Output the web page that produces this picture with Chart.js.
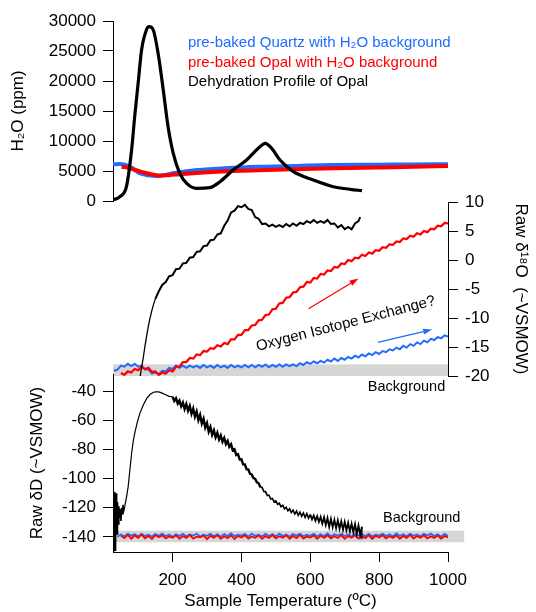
<!DOCTYPE html>
<html>
<head>
<meta charset="utf-8">
<title>Opal dehydration</title>
<script src="https://cdn.jsdelivr.net/npm/chart.js@4.4.1/dist/chart.umd.min.js"></script>
<style>
  html, body { margin: 0; padding: 0; background: #fff; }
  #wrap { position: relative; width: 536px; height: 612px; overflow: hidden; }
  #wrap canvas { position: absolute; left: 0; top: 0; }
</style>
</head>
<body>
<div id="wrap">
  <canvas id="h2oChart" width="536" height="612"></canvas>
  <canvas id="o18Chart" width="536" height="612"></canvas>
  <canvas id="dDChart" width="536" height="612"></canvas>
</div>
<script>
// ===== Data =====

const TEMP_MIN = 27;
const TEMP_MAX = 1000;
const tempTicks = [200, 400, 600, 800, 1000];
const dDTicks = [-140, -120, -100, -80, -60, -40];

// H2O (ppm) panel
const h2oQuartzTemp = [27, 47, 60, 77, 105, 130, 154, 180, 202, 240, 280, 330, 376, 420, 473, 560, 667, 800, 900, 1000];
const h2oQuartz = [6110, 6170, 6050, 5720, 4620, 4300, 4170, 4350, 4620, 4950, 5170, 5380, 5560, 5650, 5720, 5850, 6000, 6050, 6100, 6110];

const h2oOpalTemp = [52, 70, 86, 105, 125, 145, 163, 185, 202, 240, 280, 330, 376, 473, 560, 667, 800, 900, 1000];
const h2oOpal = [5720, 5550, 5280, 4950, 4620, 4380, 4220, 4300, 4400, 4560, 4720, 4870, 5000, 5170, 5300, 5450, 5600, 5700, 5830];

const h2oProfileTemp = [27, 47, 66, 81, 90, 100, 110, 124, 132, 144, 158, 173, 187, 202, 221, 241, 270, 308, 338, 376, 415, 449, 469, 488, 512, 551, 609, 667, 716, 750];
const h2oProfile = [170, 720, 2380, 8500, 14050, 19620, 25170, 28500, 29050, 28500, 24620, 18500, 12380, 7950, 4620, 2950, 2120, 2220, 3220, 5170, 6830, 8780, 9620, 8780, 6830, 4890, 3500, 2380, 1950, 1720];

// shared temperature grid for the background runs
const tempGrid = [
  30, 40, 50, 60, 70, 80, 90, 100,
  110, 120, 130, 140, 150, 160, 170, 180, 190, 200,
  210, 220, 230, 240, 250, 260, 270, 280, 290, 300,
  310, 320, 330, 340, 350, 360, 370, 380, 390, 400,
  410, 420, 430, 440, 450, 460, 470, 480, 490, 500,
  510, 520, 530, 540, 550, 560, 570, 580, 590, 600,
  610, 620, 630, 640, 650, 660, 670, 680, 690, 700,
  710, 720, 730, 740, 750, 760, 770, 780, 790, 800,
  810, 820, 830, 840, 850, 860, 870, 880, 890, 900,
  910, 920, 930, 940, 950, 960, 970, 980, 990, 1000
];

// Raw d18O panel
const o18Quartz = [
  -19.1, -18.9, -18.2, -18.4, -17.9, -18.3, -17.9, -18.4,
  -18.2, -18.9, -18.9, -19.6, -19.4, -19.7, -19.1, -19.2, -18.6, -18.8,
  -18.2, -18.6, -18.2, -18.6, -18.2, -18.5, -18.2, -18.6, -18.1, -18.5,
  -18.2, -18.6, -18.1, -18.5, -18.2, -18.6, -18.1, -18.5, -18.2, -18.5,
  -18.1, -18.5, -18.1, -18.5, -18.1, -18.4, -18.0, -18.5, -18.1, -18.4,
  -18.0, -18.4, -18.0, -18.3, -18.0, -18.3, -17.8, -18.1, -17.6, -17.9,
  -17.5, -17.8, -17.4, -17.7, -17.2, -17.5, -17.0, -17.4, -16.9, -17.2,
  -16.7, -17.0, -16.5, -16.8, -16.3, -16.6, -16.1, -16.4, -15.9, -16.2,
  -15.7, -15.9, -15.4, -15.6, -15.1, -15.4, -14.8, -15.1, -14.5, -14.8,
  -14.2, -14.5, -13.9, -14.2, -13.6, -13.8, -13.3, -13.5, -13.0, -13.2
];
const o18Opal = [
  null, null, -19.5, -19.8, -19.2, -19.4, -18.8, -19.0,
  -18.4, -18.8, -18.6, -19.3, -19.2, -19.8, -19.4, -19.6, -19.0, -19.2,
  -18.4, -18.4, -17.6, -17.6, -16.9, -17.0, -16.3, -16.4, -15.7, -15.8,
  -15.2, -15.3, -14.7, -14.9, -14.3, -14.5, -13.7, -13.7, -12.9, -12.9,
  -12.1, -12.1, -11.3, -11.2, -10.4, -10.3, -9.5, -9.4, -8.5, -8.4,
  -7.5, -7.4, -6.5, -6.4, -5.6, -5.5, -4.7, -4.6, -3.8, -3.9,
  -3.1, -3.2, -2.4, -2.5, -1.8, -1.9, -1.2, -1.3, -0.6, -0.7,
  0.0, -0.2, 0.4, 0.3, 0.9, 0.7, 1.3, 1.1, 1.7, 1.6,
  2.2, 2.1, 2.7, 2.6, 3.2, 3.1, 3.7, 3.6, 4.2, 4.0,
  4.6, 4.4, 5.0, 4.8, 5.4, 5.3, 5.9, 5.8, 6.4, 6.3
];
const o18ProfileTemp = [
  106, 110, 115, 120, 125, 130, 135, 140, 145, 150,
  160, 170, 180, 190, 200, 210, 220, 230, 240, 250,
  260, 270, 280, 290, 300, 310, 320, 330, 340, 350,
  360, 370, 380, 390, 400, 410, 420, 430, 440, 450,
  460, 470, 480, 490, 500, 510, 520, 530, 540, 550,
  560, 570, 580, 590, 600, 610, 620, 630, 640, 650,
  660, 670, 680, 690, 700, 710, 720, 730, 740, 745
];
const o18Profile = [
  -20.0, -18.6, -16.8, -14.8, -13.0, -11.3, -9.9, -8.7, -7.6, -6.7,
  -5.4, -4.3, -3.8, -2.8, -2.6, -1.6, -1.5, -0.6, -0.5, 0.4,
  0.5, 1.4, 1.5, 2.4, 2.5, 3.4, 3.5, 4.4, 4.6, 5.9,
  6.8, 8.2, 8.5, 9.3, 9.1, 9.5, 8.8, 8.6, 7.4, 7.1,
  6.2, 6.3, 5.8, 6.1, 5.7, 6.0, 5.7, 6.2, 5.8, 6.3,
  5.9, 6.4, 6.2, 6.7, 6.4, 6.9, 6.4, 6.7, 6.4, 6.9,
  6.2, 6.3, 5.6, 6.0, 5.3, 5.7, 5.3, 6.3, 6.7, 7.4
];

// Raw dD panel
const dDQuartz = [
  null, -139.8, -138.3, -139.5, -137.9, -139.1, -138.2, -139.6,
  -137.8, -139.3, -138.5, -139.7, -138.0, -139.2, -137.7, -139.5, -138.4, -139.8,
  -138.1, -139.4, -137.9, -139.6, -138.3, -139.0, -137.8, -139.7, -138.5, -139.2,
  -137.9, -139.5, -138.2, -139.8, -138.0, -139.3, -137.6, -139.4, -138.4, -139.1,
  -138.0, -139.6, -137.8, -139.2, -138.5, -139.7, -137.9, -139.3, -138.1, -139.5,
  -137.7, -139.4, -138.3, -139.8, -138.0, -139.1, -137.9, -139.5, -138.4, -139.2,
  -137.8, -139.6, -138.1, -139.3, -137.6, -139.7, -138.2, -139.0, -137.9, -139.4,
  -138.3, -139.8, -137.7, -139.2, -138.0, -139.5, -137.8, -139.6, -138.4, -139.1,
  -137.9, -139.4, -138.2, -139.7, -137.6, -139.3, -138.1, -139.5, -137.8, -139.2,
  -138.3, -139.6, -137.9, -139.0, -137.7, -139.4, -138.2, -139.8, -137.9, -139.3
];
const dDOpal = [
  null, null, -139.2, -140.8, -138.6, -141.2, -139.0, -140.6,
  -138.4, -140.9, -139.3, -141.4, -138.7, -140.2, -138.9, -141.0, -139.6, -140.5,
  -138.8, -141.3, -139.4, -140.7, -138.6, -141.1, -139.8, -140.3, -138.9, -141.5,
  -139.2, -140.6, -138.7, -141.2, -139.5, -140.8, -138.9, -141.4, -139.3, -140.4,
  -138.8, -141.1, -139.6, -140.6, -138.9, -141.3, -139.4, -140.7, -138.7, -141.0,
  -139.5, -140.5, -138.8, -141.2, -139.3, -140.8, -138.6, -141.1, -139.7, -140.4,
  -138.9, -141.3, -139.2, -140.6, -138.8, -141.0, -139.5, -140.7, -138.7, -141.2,
  -139.4, -140.5, -138.9, -141.1, -139.6, -140.8, -138.7, -141.3, -139.2, -140.4,
  -138.8, -141.0, -139.5, -140.6, -138.9, -141.2, -139.3, -140.7, -138.6, -141.1,
  -139.4, -140.5, -138.8, -141.0, -139.6, -140.7, -138.9, -141.2, -139.3, -140.3
];
const dDProfileTemp = [
  27, 28, 29, 30, 31, 32, 33, 34, 35, 36, 37, 38, 39, 40,
  42, 44, 46, 48, 50, 52, 54, 56, 58, 61, 66, 71, 76, 81, 86, 91, 98,
  105, 115, 125, 135, 145, 150, 160, 170, 180, 190,
  200, 205, 210, 215, 220, 225, 230, 235, 240, 245,
  250, 255, 260, 265, 270, 275, 280, 285, 290, 295,
  300, 305, 310, 315, 320, 325, 330, 335, 340, 345,
  350, 355, 360, 365, 370, 375, 380, 385, 390, 395,
  400, 405, 410, 415, 420, 425, 430, 435, 440, 445,
  450, 455, 460, 465, 470, 475, 480, 485, 490, 495,
  500, 505, 510, 515, 520, 525, 530, 535, 540, 545,
  550, 555, 560, 565, 570, 575, 580, 585, 590, 595,
  600, 605, 610, 615, 620, 625, 630, 635, 640, 645,
  650, 655, 660, 665, 670, 675, 680, 685, 690, 695,
  700, 705, 710, 715, 720, 725, 730, 735, 740, 745,
  750, 750
];
const dDProfile = [
  -150, -112, -146, -109, -141, -114, -149, -117, -137, -110, -133, -120, -138, -116,
  -131, -119, -127, -121, -129, -120, -124, -118, -122, -119, -113, -105.7, -94.2, -82.8, -74, -68, -61,
  -55.3, -49.5, -45, -42.2, -40.8, -40.5, -40.6, -41.4, -42.5, -43.6,
  -43.9, -46.8, -45.0, -48.6, -46.5, -50.4, -47.8, -52.3, -48.9, -53.5,
  -50.3, -55.6, -52.0, -57.6, -54.1, -59.9, -56.4, -62.3, -59.0, -65.1,
  -62.0, -67.8, -64.6, -70.0, -66.9, -71.7, -68.6, -73.2, -70.4, -74.7,
  -72.1, -76.3, -74.1, -78.2, -76.5, -80.6, -79.9, -83.8, -83.2, -86.9,
  -86.8, -90.2, -90.3, -93.5, -93.8, -96.7, -97.1, -99.7, -100.2, -102.6,
  -103.2, -105.9, -106.0, -108.8, -108.9, -111.5, -111.4, -114.0, -113.6, -115.9,
  -115.3, -117.7, -116.9, -119.2, -118.2, -120.7, -119.6, -122.1, -120.7, -123.3,
  -121.6, -124.3, -122.3, -125.2, -123.0, -125.9, -123.5, -126.6, -124.0, -127.1,
  -124.6, -127.9, -125.3, -128.9, -125.8, -129.7, -126.3, -130.9, -126.5, -131.8,
  -127.0, -133.1, -127.6, -133.4, -128.2, -134.0, -128.6, -134.4, -129.2, -135.1,
  -129.6, -135.4, -130.3, -136.2, -130.8, -136.7, -131.2, -137.9, -132.1, -138.6,
  -133.0, -141.5
];

// annotations
const o18Band = [-18, -20];
const dDBand = [-135.7, -143.6];
const arrowOpal = [[595, -8.4], [740, -3.2]];
const arrowQuartz = [[796, -14.2], [954, -12.0]];

const COLORS = {
  quartz: '#1f6cff',
  opal: '#ff0000',
  profile: '#000000',
  band: '#d6d6d6'
};

// ===== Helpers =====

const FONT = 'Arial, "Liberation Sans", Helvetica, sans-serif';
Chart.defaults.font.family = FONT;
Chart.defaults.color = '#000';
Chart.defaults.animation = false;

function toPoints(xs, ys) {
  return xs.map((x, i) => ({ x: x, y: ys[i] })).filter(p => p.y !== null && p.y !== undefined);
}

// widths: [[fromTemp, toTemp, width], ...] for the noisy stretches of a trace
function series(label, xs, ys, color, width, order, smooth, widths) {
  const ds = {
    label: label,
    data: toPoints(xs, ys),
    borderColor: color,
    backgroundColor: color,
    borderWidth: width,
    pointRadius: 0,
    fill: false,
    order: order,
    tension: smooth ? 0.4 : 0,
    cubicInterpolationMode: smooth ? 'monotone' : 'default'
  };
  if (widths) {
    ds.segment = {
      borderWidth: (ctx) => {
        const t = ctx.p0.parsed.x;
        const hit = widths.find(w => t >= w[0] && t < w[1]);
        return hit ? hit[2] : width;
      }
    };
  }
  return ds;
}

function tempAxis(show) {
  return {
    type: 'linear',
    min: TEMP_MIN,
    max: TEMP_MAX,
    display: show,
    afterBuildTicks: (scale) => { scale.ticks = tempTicks.map(v => ({ value: v })); },
    afterFit: (scale) => { if (show) scale.height = 60; },
    border: { display: true, color: '#000', width: 1 },
    grid: { drawOnChartArea: false, drawTicks: true, tickLength: 10, color: '#000' },
    ticks: { font: { size: 17 }, padding: 8, maxRotation: 0, autoSkip: false, callback: v => String(v) },
    title: { display: show, text: 'Sample Temperature (ºC)', font: { size: 17 }, padding: { top: 0, bottom: 0 } }
  };
}

function valueAxis(position, width, title, titlePad) {
  return {
    type: 'linear',
    position: position,
    afterFit: (scale) => { scale.width = width; },
    border: { display: true, color: '#000', width: 1 },
    grid: { drawOnChartArea: false, drawTicks: true, tickLength: 10, color: '#000' },
    ticks: { font: { size: 17 }, padding: 7, callback: v => String(v) },
    title: { display: true, text: title, font: { size: 17 }, padding: { top: titlePad, bottom: 0 } }
  };
}

// gray "background" bands
const bandPlugin = {
  id: 'band',
  beforeDatasetsDraw(chart, args, opts) {
    if (!opts.range) return;
    const { ctx, scales } = chart;
    const x0 = scales.x.getPixelForValue(opts.from);
    const x1 = scales.x.getPixelForValue(opts.to);
    const y0 = scales.y.getPixelForValue(opts.range[0]);
    const y1 = scales.y.getPixelForValue(opts.range[1]);
    ctx.save();
    ctx.fillStyle = opts.color;
    ctx.fillRect(x0, Math.min(y0, y1), x1 - x0, Math.abs(y1 - y0));
    ctx.restore();
  }
};

// text notes and arrows placed in data coordinates
const notesPlugin = {
  id: 'notes',
  afterDatasetsDraw(chart, args, opts) {
    const { ctx, scales } = chart;
    ctx.save();
    (opts.arrows || []).forEach(a => {
      const x0 = scales.x.getPixelForValue(a.from[0]);
      const y0 = scales.y.getPixelForValue(a.from[1]);
      const x1 = scales.x.getPixelForValue(a.to[0]);
      const y1 = scales.y.getPixelForValue(a.to[1]);
      const ang = Math.atan2(y1 - y0, x1 - x0);
      const head = 9, half = 3;
      const bx = x1 - head * Math.cos(ang), by = y1 - head * Math.sin(ang);
      ctx.strokeStyle = a.color;
      ctx.fillStyle = a.color;
      ctx.lineWidth = 1.3;
      ctx.beginPath();
      ctx.moveTo(x0, y0);
      ctx.lineTo(bx, by);
      ctx.stroke();
      ctx.beginPath();
      ctx.moveTo(x1, y1);
      ctx.lineTo(bx + half * Math.sin(ang), by - half * Math.cos(ang));
      ctx.lineTo(bx - half * Math.sin(ang), by + half * Math.cos(ang));
      ctx.closePath();
      ctx.fill();
    });
    (opts.labels || []).forEach(l => {
      ctx.save();
      ctx.translate(scales.x.getPixelForValue(l.at[0]), scales.y.getPixelForValue(l.at[1]));
      ctx.rotate((l.angle || 0) * Math.PI / 180);
      ctx.font = l.size + 'px ' + FONT;
      ctx.fillStyle = '#000';
      ctx.textAlign = l.align || 'center';
      ctx.textBaseline = 'middle';
      ctx.fillText(l.text, 0, 0);
      ctx.restore();
    });
    ctx.restore();
  }
};

// coloured text legend, no swatches
const textLegendPlugin = {
  id: 'textLegend',
  afterDraw(chart, args, opts) {
    const ctx = chart.ctx;
    ctx.save();
    ctx.font = opts.size + 'px ' + FONT;
    ctx.textAlign = 'left';
    ctx.textBaseline = 'middle';
    chart.data.datasets.forEach((ds, i) => {
      ctx.fillStyle = ds.borderColor;
      ctx.fillText(ds.label, opts.left, opts.top + i * opts.lineHeight);
    });
    ctx.restore();
  }
};

const basePlugins = {
  legend: { display: false },
  tooltip: { enabled: false }
};

// ===== H2O panel =====
const h2oY = valueAxis('left', 113, 'H\u2082O (ppm)', 8);
h2oY.min = 0;
h2oY.max = 30000;
h2oY.ticks.stepSize = 5000;

new Chart(document.getElementById('h2oChart'), {
  type: 'line',
  data: {
    datasets: [
      series('pre-baked Quartz with H\u2082O background', h2oQuartzTemp, h2oQuartz, COLORS.quartz, 4, 3, true),
      series('pre-baked Opal with H\u2082O background', h2oOpalTemp, h2oOpal, COLORS.opal, 4, 2, true),
      series('Dehydration Profile of Opal', h2oProfileTemp, h2oProfile, COLORS.profile, 3.2, 1, true)
    ]
  },
  options: {
    responsive: false,
    devicePixelRatio: 1,
    events: [],
    layout: { padding: { left: 0, right: 88, top: 21, bottom: 411 } },
    scales: { x: tempAxis(false), y: h2oY },
    plugins: Object.assign({}, basePlugins, {
      textLegend: { left: 188, top: 43, lineHeight: 19.5, size: 15 }
    })
  },
  plugins: [textLegendPlugin]
});

// ===== Raw d18O panel =====
const o18Y = valueAxis('right', 88, 'Raw \u03B4\u00B9\u2078O  (~VSMOW)', 5);
o18Y.min = -20;
o18Y.max = 10;
o18Y.ticks.stepSize = 5;

new Chart(document.getElementById('o18Chart'), {
  type: 'line',
  data: {
    datasets: [
      series('Dehydration Profile of Opal', o18ProfileTemp, o18Profile, COLORS.profile, 1.3, 1, false, [[150, 760, 2]]),
      series('pre-baked Opal', tempGrid, o18Opal, COLORS.opal, 2.2, 2, false),
      series('pre-baked Quartz', tempGrid, o18Quartz, COLORS.quartz, 2, 3, false)
    ]
  },
  options: {
    responsive: false,
    devicePixelRatio: 1,
    events: [],
    layout: { padding: { left: 113, right: 0, top: 202, bottom: 236 } },
    scales: { x: tempAxis(false), y: o18Y },
    plugins: Object.assign({}, basePlugins, {
      band: { range: o18Band, from: TEMP_MIN, to: TEMP_MAX, color: COLORS.band },
      notes: {
        arrows: [
          { from: arrowOpal[0], to: arrowOpal[1], color: COLORS.opal },
          { from: arrowQuartz[0], to: arrowQuartz[1], color: COLORS.quartz }
        ],
        labels: [
          { text: 'Oxygen Isotope Exchange?', at: [703, -11.0], angle: -14.5, size: 15 },
          { text: 'Background', at: [992, -21.9], align: 'right', size: 14.5 }
        ]
      }
    })
  },
  plugins: [bandPlugin, notesPlugin]
});

// ===== Raw dD panel =====
const dDY = valueAxis('left', 113, 'Raw \u03B4D (~VSMOW)', 27);
dDY.min = -150.3;
dDY.max = -28.3;
dDY.afterBuildTicks = (scale) => { scale.ticks = dDTicks.map(v => ({ value: v })); };

new Chart(document.getElementById('dDChart'), {
  type: 'line',
  data: {
    datasets: [
      series('Dehydration Profile of Opal', dDProfileTemp, dDProfile, COLORS.profile, 1.2, 1, false,
        [[27, 60, 1.6], [195, 452, 2.4], [452, 600, 1.6], [600, 750, 1.8]]),
      series('pre-baked Opal', tempGrid, dDOpal, COLORS.opal, 1.8, 2, false),
      series('pre-baked Quartz', tempGrid, dDQuartz, COLORS.quartz, 1.8, 3, false)
    ]
  },
  options: {
    responsive: false,
    devicePixelRatio: 1,
    events: [],
    layout: { padding: { left: 0, right: 88, top: 374, bottom: 0 } },
    scales: { x: tempAxis(true), y: dDY },
    plugins: Object.assign({}, basePlugins, {
      band: { range: dDBand, from: TEMP_MIN, to: 1047, color: COLORS.band },
      notes: {
        labels: [
          { text: 'Background', at: [1036, -127], align: 'right', size: 14.5 }
        ]
      }
    })
  },
  plugins: [bandPlugin, notesPlugin]
});
</script>
</body>
</html>
